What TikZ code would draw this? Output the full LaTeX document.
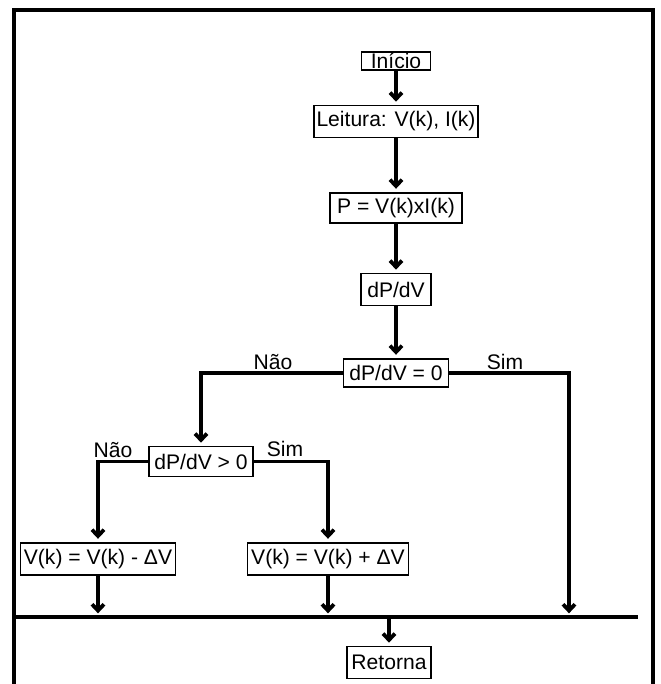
\documentclass[tikz,border=0pt]{standalone}
\usepackage{fontspec}
\setmainfont{Liberation Sans}
\usetikzlibrary{arrows.meta}

\begin{document}
\begin{tikzpicture}[
    x=0.025cm, y=-0.025cm,
    font=\fontsize{15}{18}\selectfont,
    % boxes and connectors
    box/.style={rectangle, draw, line width=0.8pt, inner sep=0pt},
    flow/.style={draw, line width=2.7pt, -{Straight Barb[length=4.5pt,width=8.5pt]}, shorten >=2.6pt},
    wire/.style={draw, line width=2.5pt},
    lbl/.style={inner sep=0pt},
]
\useasboundingbox (0,0) rectangle (660,684);

% outer frame (open at the bottom)
\draw[line width=2.6pt] (14,720) -- (14,10) -- (653,10) -- (653,720);

% =========================================================
% Main column
% =========================================================
\node[box, minimum width=1.73cm, minimum height=0.45cm] (start) at (396, 61)    {Início};
\node[box, minimum width=4.1cm,  minimum height=0.78cm] (read)  at (396, 121.5) {Leitura: V(k), I(k)};
\node[box, minimum width=3.3cm,  minimum height=0.75cm] (pw)    at (396, 208)   {P = V(k)xI(k)};
\node[box, minimum width=1.75cm, minimum height=0.78cm] (dpdv)  at (396, 289.5) {dP/dV};
\node[box, minimum width=2.63cm, minimum height=0.70cm] (dz)    at (396, 373)   {dP/dV = 0};

\draw[flow] (start) -- (read);
\draw[flow] (read) -- (pw);
\draw[flow] (pw) -- (dpdv);
\draw[flow] (dpdv) -- (dz);

% =========================================================
% Second test and the two updates
% =========================================================
\node[box, minimum width=2.6cm,  minimum height=0.73cm] (dpos) at (201, 461.5) {dP/dV > 0};
\node[box, minimum width=3.88cm, minimum height=0.8cm]  (vdn)  at (98, 559)    {V(k) = V(k) - ΔV};
\node[box, minimum width=4.03cm, minimum height=0.8cm]  (vup)  at (328, 559)   {V(k) = V(k) + ΔV};

% branch labels
\node[lbl] (nao1) at (273, 362) {Não};
\node[lbl] (sim1) at (505, 362) {Sim};
\node[lbl] (nao2) at (113, 450) {Não};
\node[lbl] (sim2) at (285, 449) {Sim};

% junction line
\coordinate (busL) at (15, 617);
\coordinate (busR) at (638, 617);
\coordinate (j3)   at (569, 617);
\draw[wire] (busL) -- (busR);

\draw[flow] (dz) -| (dpos);
\draw[flow] (dz) -| (j3);
\draw[flow] (dpos) -| (vdn);
\draw[flow] (dpos) -| (vup);
\draw[flow] (vdn) -- (vdn |- busL);
\draw[flow] (vup) -- (vup |- busL);

% =========================================================
% End
% =========================================================
\node[box, minimum width=2.1cm, minimum height=0.78cm] (ret) at (389, 662.5) {Retorna};
\draw[flow] (ret |- busL) -- (ret);

\end{tikzpicture}
\end{document}
